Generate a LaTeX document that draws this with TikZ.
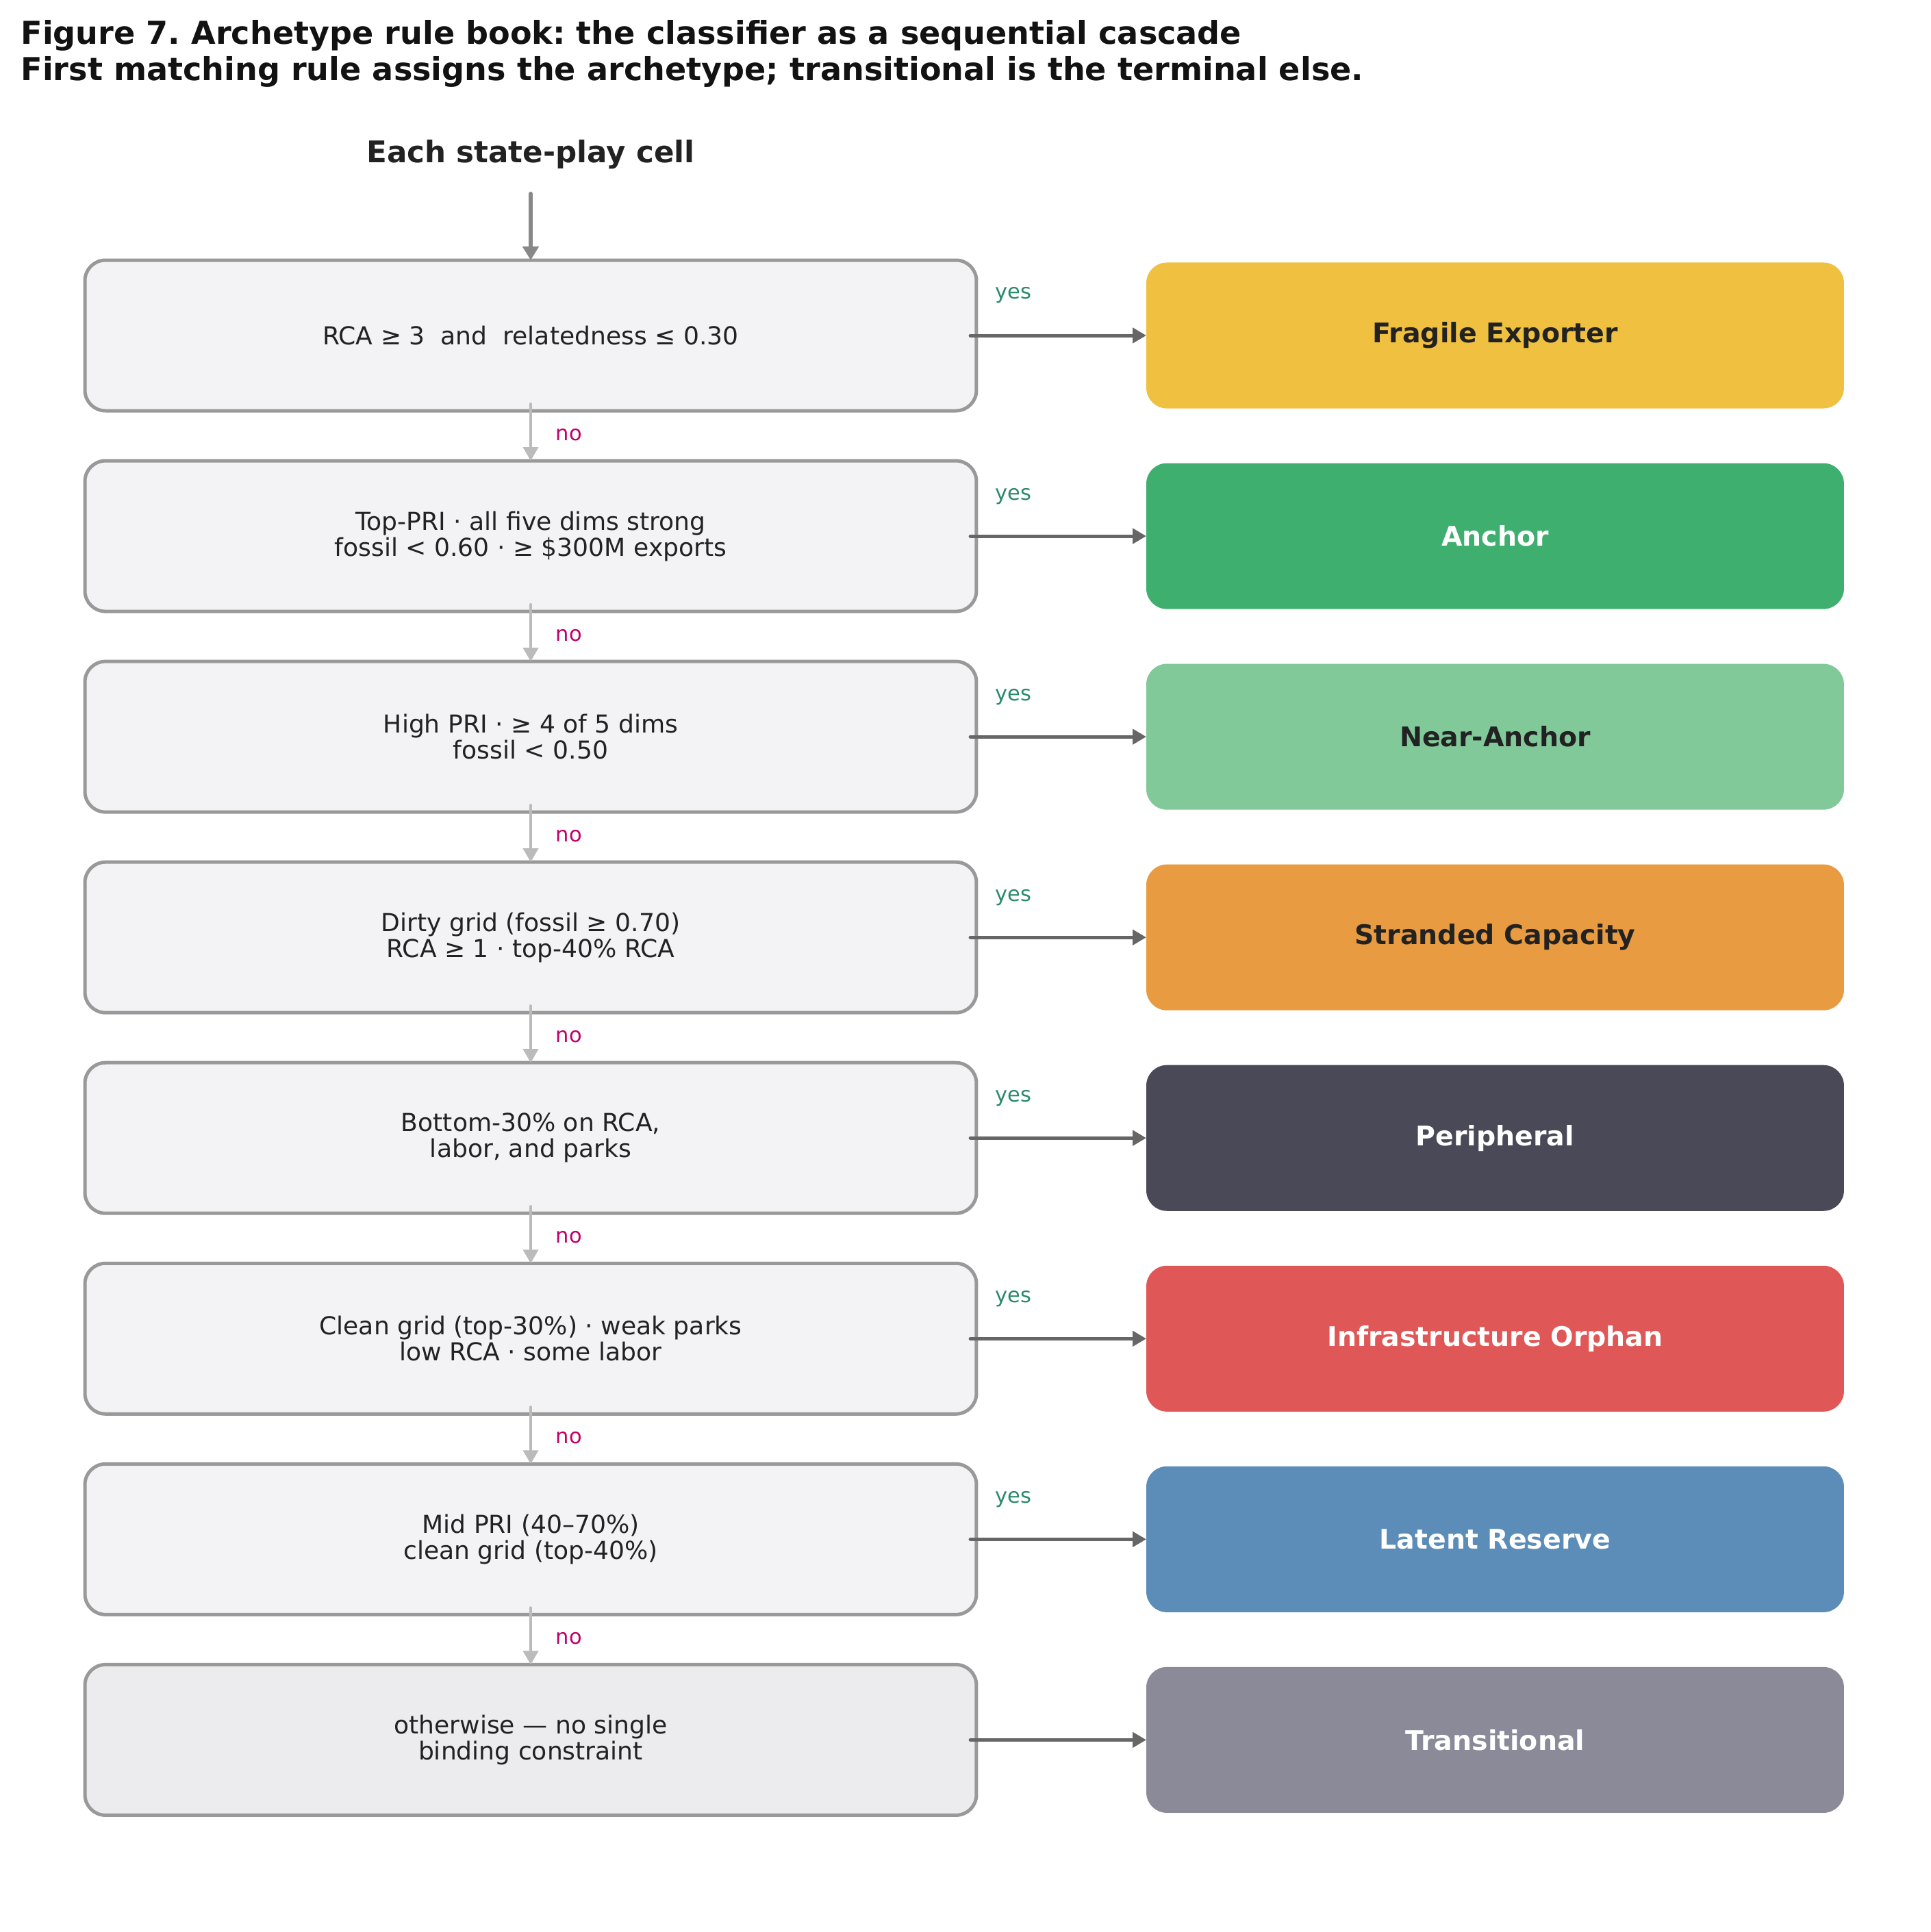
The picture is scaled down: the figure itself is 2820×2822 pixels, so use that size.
\documentclass[tikz,border=0pt]{standalone}
\usepackage{fontspec}
\setmainfont{DejaVu Sans}
\usepackage{tikz}
\usetikzlibrary{arrows.meta,chains,positioning}
\frenchspacing
\definecolor{rulefill}{HTML}{F3F3F5}
\definecolor{elsefill}{HTML}{ECECEE}
\definecolor{ruleedge}{HTML}{999999}
\definecolor{inkdark}{HTML}{222222}
\definecolor{yesgreen}{HTML}{2A8A6A}
\definecolor{nopink}{HTML}{C0006A}
\definecolor{yesgrey}{HTML}{666666}
\definecolor{nogrey}{HTML}{BBBBBB}
\definecolor{startgrey}{HTML}{888888}
\definecolor{fragile}{HTML}{F0C040}
\definecolor{anchor}{HTML}{3FAF6F}
\definecolor{nearanchor}{HTML}{82C99A}
\definecolor{stranded}{HTML}{E89B40}
\definecolor{peripheral}{HTML}{4A4958}
\definecolor{orphan}{HTML}{E05757}
\definecolor{latent}{HTML}{5B8DB8}
\definecolor{transitional}{HTML}{8B8A99}
\tikzstyle{rulebox}=[draw=ruleedge,line width=1.8pt,fill=rulefill,rounded corners=10.8pt,minimum width=468.7pt,minimum height=79.2pt,outer sep=0pt,align=center,text=inkdark,font=\fontsize{13pt}{13.7pt}\selectfont]
\tikzstyle{outbox}=[rounded corners=10.8pt,minimum width=366.8pt,minimum height=76.7pt,outer sep=0pt,font=\fontsize{14.2pt}{16pt}\selectfont\bfseries]
\tikzstyle{darktext}=[text=inkdark]
\tikzstyle{lighttext}=[text=white]
\tikzstyle{yeslabel}=[text=yesgreen,inner sep=0pt,anchor=base west,font=\fontsize{11pt}{13pt}\selectfont]
\tikzstyle{nolabel}=[text=nopink,inner sep=0pt,anchor=base west,font=\fontsize{11pt}{13pt}\selectfont]
\tikzstyle{yesarrow}=[draw=yesgrey,line width=1.8pt,line cap=round,-{Triangle[length=7.2pt,width=7.9pt]}]
\tikzstyle{noarrow}=[draw=nogrey,line width=1.5pt,line cap=round,-{Triangle[length=7.2pt,width=7.9pt]}]
\tikzstyle{startarrow}=[draw=startgrey,line width=2.2pt,line cap=round,-{Triangle[length=7.2pt,width=8.3pt]}]
\tikzstyle{titletext}=[inner sep=0pt,anchor=base west,text=black!93,font=\fontsize{16.6pt}{19pt}\selectfont\bfseries]

\begin{document}
\begin{tikzpicture}[x=0.36pt,y=-0.36pt]
\useasboundingbox (0,0) rectangle (2820,2822);
\node [titletext] (title1) at (30,64) {Figure 7. Archetype rule book: the classifier as a sequential cascade};
\node [titletext] (title2) at ([yshift=-19.1pt]title1.base west) {First matching rule assigns the archetype; transitional is the terminal else.};
\node [inner sep=0pt,anchor=base,text=inkdark,font=\fontsize{15.7pt}{18pt}\selectfont\bfseries] (head) at (775,237) {Each state-play cell};
\coordinate (start) at (775,283);

\begin{scope}[start chain=rules going below, node distance=26.3pt]
    \node [on chain=rules,rulebox] (r1) at (775,490) {RCA ≥ 3\ \ and\ \ relatedness ≤ 0.30};
    \node [on chain=rules,rulebox] (r2) {Top-PRI · all five dims strong\\fossil < 0.60 · ≥ \$300M exports};
    \node [on chain=rules,rulebox] (r3) {High PRI · ≥ 4 of 5 dims\\fossil < 0.50};
    \node [on chain=rules,rulebox] (r4) {Dirty grid (fossil ≥ 0.70)\\RCA ≥ 1 · top-40\% RCA};
    \node [on chain=rules,rulebox] (r5) {Bottom-30\% on RCA,\\labor, and parks};
    \node [on chain=rules,rulebox] (r6) {Clean grid (top-30\%) · weak parks\\low RCA · some labor};
    \node [on chain=rules,rulebox] (r7) {Mid PRI (40–70\%)\\clean grid (top-40\%)};
    \node [on chain=rules,rulebox,fill=elsefill] (r8) {otherwise — no single\\binding constraint};
\end{scope}

\node [outbox,fill=fragile,darktext,right=89.3pt of r1] (o1) {Fragile Exporter};
\node [outbox,fill=anchor,lighttext,right=89.3pt of r2] (o2) {Anchor};
\node [outbox,fill=nearanchor,darktext,right=89.3pt of r3] (o3) {Near-Anchor};
\node [outbox,fill=stranded,darktext,right=89.3pt of r4] (o4) {Stranded Capacity};
\node [outbox,fill=peripheral,lighttext,right=89.3pt of r5] (o5) {Peripheral};
\node [outbox,fill=orphan,lighttext,right=89.3pt of r6] (o6) {Infrastructure Orphan};
\node [outbox,fill=latent,lighttext,right=89.3pt of r7] (o7) {Latent Reserve};
\node [outbox,fill=transitional,lighttext,right=89.3pt of r8] (o8) {Transitional};

\draw [startarrow] (start) -- (r1.north);

% yes branches
\draw [yesarrow] ([xshift=-3.2pt]r1.east) -- (o1.west);
\draw [yesarrow] ([xshift=-3.2pt]r2.east) -- (o2.west);
\draw [yesarrow] ([xshift=-3.2pt]r3.east) -- (o3.west);
\draw [yesarrow] ([xshift=-3.2pt]r4.east) -- (o4.west);
\draw [yesarrow] ([xshift=-3.2pt]r5.east) -- (o5.west);
\draw [yesarrow] ([xshift=-3.2pt]r6.east) -- (o6.west);
\draw [yesarrow] ([xshift=-3.2pt]r7.east) -- (o7.west);
\draw [yesarrow] ([xshift=-3.2pt]r8.east) -- (o8.west);
\node [yeslabel] (y1) at ([xshift=9.7pt,yshift=19.1pt]r1.east) {yes};
\node [yeslabel] (y2) at ([xshift=9.7pt,yshift=19.1pt]r2.east) {yes};
\node [yeslabel] (y3) at ([xshift=9.7pt,yshift=19.1pt]r3.east) {yes};
\node [yeslabel] (y4) at ([xshift=9.7pt,yshift=19.1pt]r4.east) {yes};
\node [yeslabel] (y5) at ([xshift=9.7pt,yshift=19.1pt]r5.east) {yes};
\node [yeslabel] (y6) at ([xshift=9.7pt,yshift=19.1pt]r6.east) {yes};
\node [yeslabel] (y7) at ([xshift=9.7pt,yshift=19.1pt]r7.east) {yes};

% no branches
\draw [noarrow] ([yshift=3.6pt]r1.south) -- (r2.north);
\draw [noarrow] ([yshift=3.6pt]r2.south) -- (r3.north);
\draw [noarrow] ([yshift=3.6pt]r3.south) -- (r4.north);
\draw [noarrow] ([yshift=3.6pt]r4.south) -- (r5.north);
\draw [noarrow] ([yshift=3.6pt]r5.south) -- (r6.north);
\draw [noarrow] ([yshift=3.6pt]r6.south) -- (r7.north);
\draw [noarrow] ([yshift=3.6pt]r7.south) -- (r8.north);
\node [nolabel] (n1) at ([xshift=13pt,yshift=-15.5pt]r1.south) {no};
\node [nolabel] (n2) at ([xshift=13pt,yshift=-15.5pt]r2.south) {no};
\node [nolabel] (n3) at ([xshift=13pt,yshift=-15.5pt]r3.south) {no};
\node [nolabel] (n4) at ([xshift=13pt,yshift=-15.5pt]r4.south) {no};
\node [nolabel] (n5) at ([xshift=13pt,yshift=-15.5pt]r5.south) {no};
\node [nolabel] (n6) at ([xshift=13pt,yshift=-15.5pt]r6.south) {no};
\node [nolabel] (n7) at ([xshift=13pt,yshift=-15.5pt]r7.south) {no};
\end{tikzpicture}
\end{document}
